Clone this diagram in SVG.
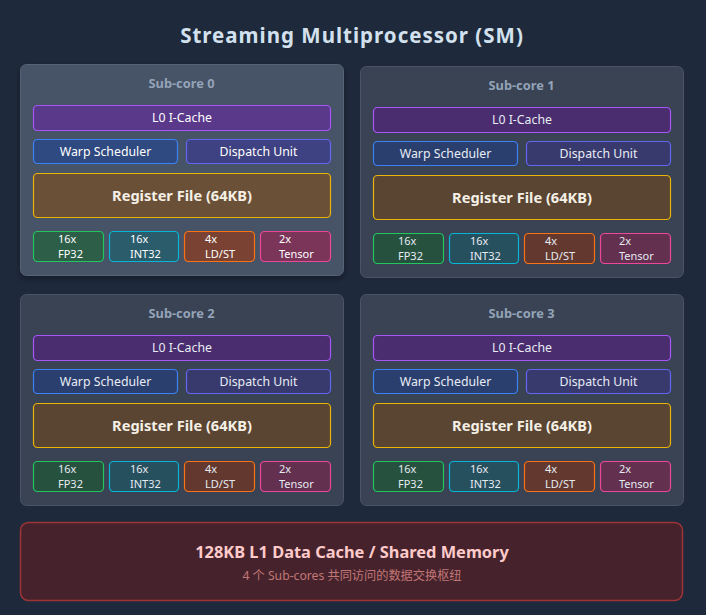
<svg xmlns="http://www.w3.org/2000/svg" width="706" height="615" viewBox="0 0 706 615">
<style>
text{font-family:"Noto Sans","Liberation Sans",sans-serif}
.core{fill:#394354;stroke:#4a5466;stroke-width:1}
.hot .core{fill:#465366;stroke:#566275}
.ct{font-size:12.8px;font-weight:bold;fill:#94a3b8;text-anchor:middle}
.l0{fill:#4a2d6e;stroke:#a855f7}
.hot .l0{fill:#5a388a}
.ws{fill:#2b3f6e;stroke:#3b82f6}
.hot .ws{fill:#2f4a80}
.du{fill:#383a6e;stroke:#6366f1}
.hot .du{fill:#3f4282}
.rf{fill:#5a4532;stroke:#eab308}
.hot .rf{fill:#6b5038}
.fp{fill:#27513f;stroke:#22c55e}
.hot .fp{fill:#2c5e48}
.in{fill:#27505e;stroke:#06b6d4}
.hot .in{fill:#2a5c6c}
.ls{fill:#63382e;stroke:#f97316}
.hot .ls{fill:#7a4232}
.tc{fill:#63304f;stroke:#ec4899}
.hot .tc{fill:#7b3559}
rect.b{stroke-width:1.2}
.t{font-size:12.3px;fill:#e8ecf4;text-anchor:middle}
.rt{font-size:14.6px;font-weight:bold;fill:#f5f0e6;text-anchor:middle}
.u{font-size:11px;fill:#e6ebf2}
.hot .u,.hot .t{fill:#ffffff}
</style>
<defs>
<filter id="sh" x="-10%" y="-10%" width="120%" height="130%">
<feDropShadow dx="0" dy="3" stdDeviation="3" flood-color="#000" flood-opacity="0.35"/>
</filter>
</defs>
<rect width="706" height="615" fill="#1e293b"/>
<text x="352" y="43" text-anchor="middle" font-size="20.5" font-weight="bold" letter-spacing="1" fill="#d3e1ee">Streaming Multiprocessor (SM)</text>

<g id="subcore1" transform="translate(360,66)">
<rect class="core" x="0.5" y="0.5" width="323" height="211" rx="6"/>
<text class="ct" x="161.5" y="24">Sub-core 1</text>
<rect class="b l0" x="13.5" y="41.5" width="297" height="25" rx="4"/>
<text class="t" x="162" y="58">L0 I-Cache</text>
<rect class="b ws" x="13.5" y="75.5" width="144" height="24" rx="4"/>
<text class="t" x="85.5" y="92">Warp Scheduler</text>
<rect class="b du" x="166.5" y="75.5" width="144" height="24" rx="4"/>
<text class="t" x="238.5" y="92">Dispatch Unit</text>
<rect class="b rf" x="13.5" y="109.5" width="297" height="44" rx="4"/>
<text class="rt" x="162" y="137">Register File (64KB)</text>
<rect class="b fp" x="13.5" y="167.5" width="70" height="30" rx="4"/>
<text class="u" x="38" y="179">16x</text><text class="u" x="38" y="194">FP32</text>
<rect class="b in" x="89.5" y="167.5" width="69" height="30" rx="4"/>
<text class="u" x="110" y="179">16x</text><text class="u" x="110" y="194">INT32</text>
<rect class="b ls" x="164.5" y="167.5" width="70" height="30" rx="4"/>
<text class="u" x="185" y="179">4x</text><text class="u" x="185" y="194">LD/ST</text>
<rect class="b tc" x="240.5" y="167.5" width="70" height="30" rx="4"/>
<text class="u" x="259" y="179">2x</text><text class="u" x="259" y="194">Tensor</text>
</g>

<g id="subcore2" transform="translate(20,294)">
<rect class="core" x="0.5" y="0.5" width="323" height="211" rx="6"/>
<text class="ct" x="161.5" y="24">Sub-core 2</text>
<rect class="b l0" x="13.5" y="41.5" width="297" height="25" rx="4"/>
<text class="t" x="162" y="58">L0 I-Cache</text>
<rect class="b ws" x="13.5" y="75.5" width="144" height="24" rx="4"/>
<text class="t" x="85.5" y="92">Warp Scheduler</text>
<rect class="b du" x="166.5" y="75.5" width="144" height="24" rx="4"/>
<text class="t" x="238.5" y="92">Dispatch Unit</text>
<rect class="b rf" x="13.5" y="109.5" width="297" height="44" rx="4"/>
<text class="rt" x="162" y="137">Register File (64KB)</text>
<rect class="b fp" x="13.5" y="167.5" width="70" height="30" rx="4"/>
<text class="u" x="38" y="179">16x</text><text class="u" x="38" y="194">FP32</text>
<rect class="b in" x="89.5" y="167.5" width="69" height="30" rx="4"/>
<text class="u" x="110" y="179">16x</text><text class="u" x="110" y="194">INT32</text>
<rect class="b ls" x="164.5" y="167.5" width="70" height="30" rx="4"/>
<text class="u" x="185" y="179">4x</text><text class="u" x="185" y="194">LD/ST</text>
<rect class="b tc" x="240.5" y="167.5" width="70" height="30" rx="4"/>
<text class="u" x="259" y="179">2x</text><text class="u" x="259" y="194">Tensor</text>
</g>

<g id="subcore3" transform="translate(360,294)">
<rect class="core" x="0.5" y="0.5" width="323" height="211" rx="6"/>
<text class="ct" x="161.5" y="24">Sub-core 3</text>
<rect class="b l0" x="13.5" y="41.5" width="297" height="25" rx="4"/>
<text class="t" x="162" y="58">L0 I-Cache</text>
<rect class="b ws" x="13.5" y="75.5" width="144" height="24" rx="4"/>
<text class="t" x="85.5" y="92">Warp Scheduler</text>
<rect class="b du" x="166.5" y="75.5" width="144" height="24" rx="4"/>
<text class="t" x="238.5" y="92">Dispatch Unit</text>
<rect class="b rf" x="13.5" y="109.5" width="297" height="44" rx="4"/>
<text class="rt" x="162" y="137">Register File (64KB)</text>
<rect class="b fp" x="13.5" y="167.5" width="70" height="30" rx="4"/>
<text class="u" x="38" y="179">16x</text><text class="u" x="38" y="194">FP32</text>
<rect class="b in" x="89.5" y="167.5" width="69" height="30" rx="4"/>
<text class="u" x="110" y="179">16x</text><text class="u" x="110" y="194">INT32</text>
<rect class="b ls" x="164.5" y="167.5" width="70" height="30" rx="4"/>
<text class="u" x="185" y="179">4x</text><text class="u" x="185" y="194">LD/ST</text>
<rect class="b tc" x="240.5" y="167.5" width="70" height="30" rx="4"/>
<text class="u" x="259" y="179">2x</text><text class="u" x="259" y="194">Tensor</text>
</g>

<g id="subcore0" class="hot" transform="translate(20,64)">
<rect class="core" x="0.5" y="0.5" width="323" height="211" rx="6" filter="url(#sh)"/>
<text class="ct" x="161.5" y="24">Sub-core 0</text>
<rect class="b l0" x="13.5" y="41.5" width="297" height="25" rx="4"/>
<text class="t" x="162" y="58">L0 I-Cache</text>
<rect class="b ws" x="13.5" y="75.5" width="144" height="24" rx="4"/>
<text class="t" x="85.5" y="92">Warp Scheduler</text>
<rect class="b du" x="166.5" y="75.5" width="144" height="24" rx="4"/>
<text class="t" x="238.5" y="92">Dispatch Unit</text>
<rect class="b rf" x="13.5" y="109.5" width="297" height="44" rx="4"/>
<text class="rt" x="162" y="137">Register File (64KB)</text>
<rect class="b fp" x="13.5" y="167.5" width="70" height="30" rx="4"/>
<text class="u" x="38" y="179">16x</text><text class="u" x="38" y="194">FP32</text>
<rect class="b in" x="89.5" y="167.5" width="69" height="30" rx="4"/>
<text class="u" x="110" y="179">16x</text><text class="u" x="110" y="194">INT32</text>
<rect class="b ls" x="164.5" y="167.5" width="70" height="30" rx="4"/>
<text class="u" x="185" y="179">4x</text><text class="u" x="185" y="194">LD/ST</text>
<rect class="b tc" x="240.5" y="167.5" width="70" height="30" rx="4"/>
<text class="u" x="259" y="179">2x</text><text class="u" x="259" y="194">Tensor</text>
</g>

<g id="l1cache">
<rect x="20.5" y="522.5" width="662" height="78" rx="8" fill="#46232c" stroke="#9f3436" stroke-width="1.5"/>
<text x="352" y="558" text-anchor="middle" font-size="16.4" font-weight="bold" fill="#fecaca">128KB L1 Data Cache / Shared Memory</text>
<text x="352" y="580" text-anchor="middle" font-size="12.2" fill="#c27676" style="font-family:'Noto Sans','Noto Sans CJK SC',sans-serif">4 个 Sub-cores 共同访问的数据交换枢纽</text>
</g>
<g id="connectors"/>
</svg>
